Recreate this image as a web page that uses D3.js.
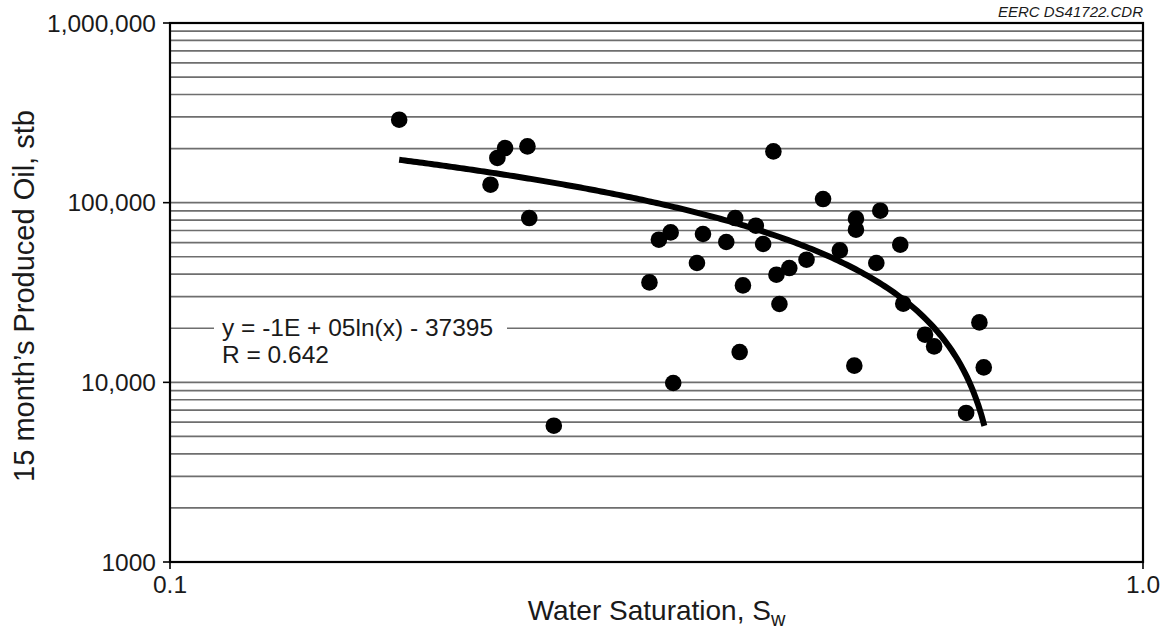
<!DOCTYPE html>
<html>
<head>
<meta charset="utf-8" />
<title>15 month's Produced Oil vs Water Saturation</title>
<style>
html, body {
    margin: 0;
    padding: 0;
    background: #fff;
}
#graph {
    width: 1166px;
    height: 630px;
}
</style>
</head>
<body>
<div id="graph"></div>
<script src="https://cdn.jsdelivr.net/npm/d3@7"></script>
<script>
// water saturation (fraction) of each well
var swValues = [0.172, 0.2135, 0.217, 0.221, 0.233, 0.234, 0.248, 0.311, 0.318, 0.327,
    0.329, 0.348, 0.353, 0.373, 0.381, 0.385, 0.388, 0.400, 0.407, 0.417,
    0.420, 0.423, 0.433, 0.451, 0.469, 0.488, 0.505, 0.507, 0.507, 0.532,
    0.537, 0.563, 0.567, 0.597, 0.610, 0.658, 0.679, 0.686]
// 15 month cumulative oil, stb
var oilValues = [289500, 125900, 177300, 201500, 205700, 82150, 5735, 35990, 62220, 68320,
    9915, 46150, 66930, 60410, 82150, 14750, 34630, 74420, 58880, 192900,
    39720, 27290, 43280, 48140, 104800, 54240, 12380, 81420, 70720, 46150,
    90230, 58350, 27390, 18410, 15850, 6752, 21560, 12110]

var xTickValues = [0.1, 1.0]
var xTickLabels = ["0.1", "1.0"]
var yTickValues = [1000, 10000, 100000, 1000000]
var yTickLabels = ["1000", "10,000", "100,000", "1,000,000"]

// trend line as drawn: y = a ln(x) + b, over the data range
var trendCoef = [-121000, -39700]
var trendRange = [0.172, 0.687]
var trendLabel = ["y = -1E + 05ln(x) - 37395", "R = 0.642"]

!(function(){
    "use strict"

    var width, height
    var margin
    var chartWidth, chartHeight
    var svg = d3.select("#graph").append("svg")

    main()

    function main() {
        setSize()
        drawChart()
    }

    function setSize() {
        width = 1166
        height = 630
        margin = {top: 23, left: 170, bottom: 68, right: 23}
        chartWidth = width - (margin.left + margin.right)
        chartHeight = height - (margin.top + margin.bottom)
        svg.attr("width", width).attr("height", height)
    }

    function drawChart() {
        var x = d3.scaleLog().domain([0.1, 1]).range([margin.left, margin.left + chartWidth])
        var y = d3.scaleLog().domain([1000, 1000000]).range([margin.top + chartHeight, margin.top])

        var fontFam = "Liberation Sans, Arial, Helvetica, sans-serif"

        // minor + major horizontal grid lines (2..9 of each decade)
        var gridVals = []
        for (var p = 3; p < 6; p++) {
            for (var k = 1; k <= 9; k++) {
                var v = k * Math.pow(10, p)
                if (v > 1000) gridVals.push(v)
            }
        }

        svg.append("g")
            .attr("class", "grid")
            .selectAll("line")
            .data(gridVals)
            .enter()
            .append("line")
            .attr("x1", margin.left)
            .attr("x2", margin.left + chartWidth)
            .attr("y1", function(d){ return y(d) })
            .attr("y2", function(d){ return y(d) })
            .attr("stroke", "#6e6e6e")
            .attr("stroke-width", 1.7)

        // frame
        svg.append("rect")
            .attr("x", margin.left)
            .attr("y", margin.top)
            .attr("width", chartWidth)
            .attr("height", chartHeight)
            .attr("fill", "none")
            .attr("stroke", "#000")
            .attr("stroke-width", 2.2)

        // y ticks
        var yAxis = svg.append("g").attr("class", "y-axis")
        yAxis.selectAll("line")
            .data(yTickValues)
            .enter()
            .append("line")
            .attr("x1", margin.left - 7)
            .attr("x2", margin.left)
            .attr("y1", function(d){ return y(d) })
            .attr("y2", function(d){ return y(d) })
            .attr("stroke", "#000")
            .attr("stroke-width", 1.6)
        yAxis.selectAll("text")
            .data(yTickValues)
            .enter()
            .append("text")
            .text(function(d, i){ return yTickLabels[i] })
            .attr("x", margin.left - 14)
            .attr("y", function(d){ return y(d) })
            .attr("dy", ".36em")
            .attr("text-anchor", "end")
            .attr("font-family", fontFam)
            .attr("font-size", "24.5px")
            .attr("fill", "#1a1a1a")

        // x ticks
        var xAxis = svg.append("g").attr("class", "x-axis")
        xAxis.selectAll("line")
            .data(xTickValues)
            .enter()
            .append("line")
            .attr("x1", function(d){ return x(d) })
            .attr("x2", function(d){ return x(d) })
            .attr("y1", margin.top + chartHeight)
            .attr("y2", margin.top + chartHeight + 7)
            .attr("stroke", "#000")
            .attr("stroke-width", 1.6)
        xAxis.selectAll("text")
            .data(xTickValues)
            .enter()
            .append("text")
            .text(function(d, i){ return xTickLabels[i] })
            .attr("x", function(d){ return x(d) })
            .attr("y", margin.top + chartHeight + 31)
            .attr("text-anchor", "middle")
            .attr("font-family", fontFam)
            .attr("font-size", "24.5px")
            .attr("fill", "#1a1a1a")

        // axis titles
        var xTitle = svg.append("text")
            .attr("x", margin.left + chartWidth / 2)
            .attr("y", 620)
            .attr("text-anchor", "middle")
            .attr("font-family", fontFam)
            .attr("font-size", "28px")
            .attr("fill", "#1a1a1a")
        xTitle.append("tspan").text("Water Saturation, S")
        xTitle.append("tspan").text("w").attr("font-size", "20px").attr("dy", "6")

        svg.append("text")
            .attr("transform", "translate(34," + 296 + ") rotate(-90)")
            .attr("text-anchor", "middle")
            .attr("font-family", fontFam)
            .attr("font-size", "29px")
            .attr("fill", "#1a1a1a")
            .text("15 month\u2019s Produced Oil, stb")

        svg.append("text")
            .attr("x", margin.left + chartWidth)
            .attr("y", 17)
            .attr("text-anchor", "end")
            .attr("font-family", fontFam)
            .attr("font-style", "italic")
            .attr("font-size", "15px")
            .attr("fill", "#1a1a1a")
            .text("EERC DS41722.CDR")

        // equation label (white box breaks the grid line)
        svg.append("rect")
            .attr("x", 214)
            .attr("y", 314)
            .attr("width", 293)
            .attr("height", 54)
            .attr("fill", "#fff")
        svg.append("g")
            .selectAll("text")
            .data(trendLabel)
            .enter()
            .append("text")
            .text(function(d){ return d })
            .attr("x", 222)
            .attr("y", function(d, i){ return 336 + i * 27 })
            .attr("font-family", fontFam)
            .attr("font-size", "24.5px")
            .attr("fill", "#1a1a1a")

        // data points
        var points = swValues.map(function(d, i){ return {sw: d, oil: oilValues[i]} })
        svg.append("g")
            .attr("class", "points")
            .selectAll("circle")
            .data(points)
            .enter()
            .append("circle")
            .attr("cx", function(d){ return x(d.sw) })
            .attr("cy", function(d){ return y(d.oil) })
            .attr("r", 8.3)
            .attr("fill", "#000")

        // trend line
        var trendPts = d3.range(0, 201).map(function(i){
            var sw = trendRange[0] * Math.pow(trendRange[1] / trendRange[0], i / 200)
            return [sw, trendCoef[0] * Math.log(sw) + trendCoef[1]]
        })
        var line = d3.line()
            .x(function(d){ return x(d[0]) })
            .y(function(d){ return y(d[1]) })
        svg.append("path")
            .datum(trendPts)
            .attr("d", line)
            .attr("fill", "none")
            .attr("stroke", "#000")
            .attr("stroke-width", 6)
    }
}());
</script>
</body>
</html>
